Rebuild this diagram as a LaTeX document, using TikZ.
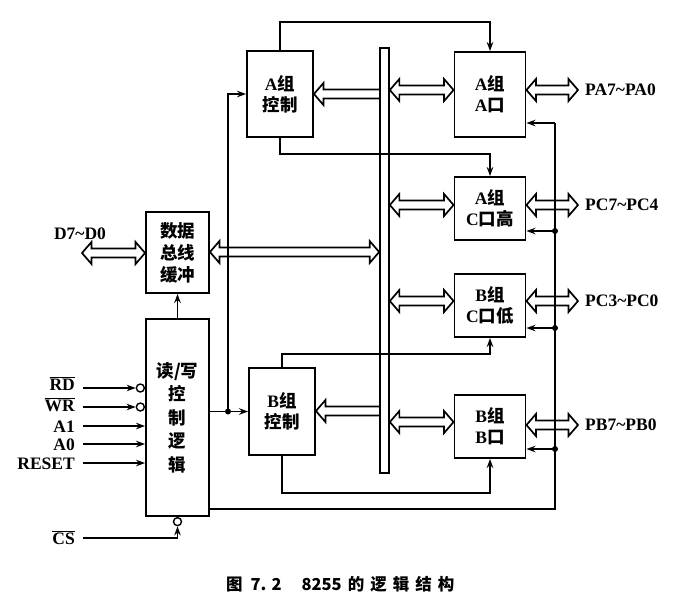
\documentclass[tikz,border=0pt]{standalone}
\usepackage{fontspec}
\setmainfont{Liberation Serif}
\newfontfamily\cjk{Noto Sans CJK SC}
\usetikzlibrary{arrows.meta,calc}
\newcommand\zh[1]{{\cjk\bfseries #1}}
\newcommand\lbl{\fontsize{17.5}{21}\selectfont\bfseries}
\newcommand\fatLR[3]{%
  \draw[fat] let \p1=(#1), \p2=(#2), \p3=(0,#3) in
  (\x1,\y3) -- (\x1+9.5pt,\y3+11pt) -- (\x1+9.5pt,\y3+4.5pt) -- (\x2-9.5pt,\y3+4.5pt)
  -- (\x2-9.5pt,\y3+11pt) -- (\x2,\y3) -- (\x2-9.5pt,\y3-11pt) -- (\x2-9.5pt,\y3-4.5pt)
  -- (\x1+9.5pt,\y3-4.5pt) -- (\x1+9.5pt,\y3-11pt) -- cycle;}
\newcommand\fatL[3]{%
  \draw[fat] let \p1=(#1), \p2=(#2), \p3=(0,#3) in
  (\x2,\y3+4.5pt) -- (\x1+9.5pt,\y3+4.5pt) -- (\x1+9.5pt,\y3+11pt) -- (\x1,\y3)
  -- (\x1+9.5pt,\y3-11pt) -- (\x1+9.5pt,\y3-4.5pt) -- (\x2,\y3-4.5pt);}
\tikzset{
  box/.style={draw, line width=1.9pt, inner sep=0pt, align=center, font=\lbl},
  ln/.style={line width=1.7pt},
  arr/.style={line width=1.7pt, -{Stealth[length=9pt,width=6.5pt]}},
  fat/.style={line width=1.7pt, line join=miter},
  bubble/.style={draw, circle, line width=1.4pt, minimum size=8pt, inner sep=0pt},
  sig/.style={font=\lbl, inner sep=0pt},
}
\begin{document}
\begin{tikzpicture}[x=1pt,y=-1pt]
\useasboundingbox (0,0) rectangle (679,603);
% boxes
\node[box, minimum width=66pt, minimum height=86pt] (actrl) at (280,94) {A\zh{组}\\\zh{控制}};
\node[box, minimum width=66pt, minimum height=87pt] (bctrl) at (282,411.5) {B\zh{组}\\\zh{控制}};
\node[box, minimum width=71pt, minimum height=85pt] (aport) at (490,94.5) {A\zh{组}\\A\zh{口}};
\node[box, minimum width=71pt, minimum height=63pt] (chigh) at (490,208.5) {A\zh{组}\\C\zh{口高}};
\node[box, minimum width=71pt, minimum height=63pt] (clow) at (490,305.5) {B\zh{组}\\C\zh{口低}};
\node[box, minimum width=71pt, minimum height=63pt] (bport) at (490,426.5) {B\zh{组}\\B\zh{口}};
\node[box, minimum width=63pt, minimum height=81pt, font=\fontsize{17.5}{22}\selectfont] (buf) at (177.5,252.5) {\zh{数据}\\\zh{总线}\\\zh{缓冲}};
\node[box, minimum width=63pt, minimum height=197pt, font=\fontsize{17.5}{23.5}\selectfont] (rw) at (177.5,417.5) {\zh{读/写}\\\zh{控}\\\zh{制}\\\zh{逻}\\\zh{辑}};
\node[draw, line width=1.7pt, minimum width=9pt, minimum height=425pt, inner sep=0pt] (bus) at (384.5,260.5) {};
% control lines from group controls
\draw[arr] (actrl.north) -- (actrl.north |- 0,22) -| (aport.north);
\draw[arr] (actrl.south) -- (actrl.south |- 0,154) -| (chigh.north);
\draw[arr] (bctrl.north) -- (bctrl.north |- 0,354) -| (clow.south);
\draw[arr] (bctrl.south) -- (bctrl.south |- 0,493) -| (bport.south);
% fat arrows
\fatL{actrl.east}{bus.west}{94}
\fatL{bctrl.east}{bus.west}{411}
\fatLR{bus.east}{aport.west}{90}
\fatLR{bus.east}{chigh.west}{205}
\fatLR{bus.east}{clow.west}{301}
\fatLR{bus.east}{bport.west}{422}
\fatLR{buf.east}{bus.west}{252}
\coordinate (d7) at (82,253);
\fatLR{d7}{buf.west}{253}
\coordinate (pa) at (578,90);
\coordinate (pch) at (578,205);
\coordinate (pcl) at (578,301);
\coordinate (pb) at (578,425);
\fatLR{aport.east}{pa}{90}
\fatLR{chigh.east}{pch}{205}
\fatLR{clow.east}{pcl}{301}
\fatLR{bport.east}{pb}{425}
\node[sig, anchor=west] (lpa) at (585,90) {PA7\textasciitilde PA0};
\node[sig, anchor=west] (lpch) at (585,205) {PC7\textasciitilde PC4};
\node[sig, anchor=west] (lpcl) at (585,301) {PC3\textasciitilde PC0};
\node[sig, anchor=west] (lpb) at (585,425) {PB7\textasciitilde PB0};
\node[sig, anchor=base] (ld) at (80,239) {D7\textasciitilde D0};
% right vertical line
\coordinate (vtop) at (555,123);
\coordinate (vbot) at (555,509);
\coordinate (j1) at (555,231);
\coordinate (j2) at (555,328);
\coordinate (j3) at (555,449);
\draw[ln] (rw.east |- vbot) -- (vbot) -- (vtop);
\draw[arr] (vtop) -- (aport.east |- vtop);
\draw[arr] (j1) -- (chigh.east |- j1);
\draw[arr] (j2) -- (clow.east |- j2);
\draw[arr] (j3) -- (bport.east |- j3);
\foreach \j in {j1,j2,j3} \fill (\j) circle (3pt);
% left internal line
\coordinate (jl) at (228,0 |- bctrl.west);
\draw[ln] (rw.east |- bctrl.west) -- (jl);
\draw[arr] (jl) -- (bctrl.west);
\draw[arr] (jl) |- (actrl.west);
\fill (jl) circle (3pt);
\draw[arr] (rw.north) -- (buf.south);
% inputs
\node[bubble, anchor=east] (bRD) at (rw.west |- 0,388) {};
\node[bubble, anchor=east] (bWR) at (rw.west |- 0,407) {};
\coordinate (sRD) at (83,388);
\coordinate (sWR) at (83,407);
\coordinate (sA1) at (83,426);
\coordinate (sA0) at (83,444);
\coordinate (sRS) at (83,463);
\coordinate (sCS) at (83,538);
\draw[arr] (sRD) -- (bRD.west);
\draw[arr] (sWR) -- (bWR.west);
\draw[arr] (sA1) -- (rw.west |- sA1);
\draw[arr] (sA0) -- (rw.west |- sA0);
\draw[arr] (sRS) -- (rw.west |- sRS);
\node[sig, anchor=base east] (lRD) at (75,390) {$\overline{\hbox{RD}}$};
\node[sig, anchor=base east] (lWR) at (75,411) {$\overline{\hbox{WR}}$};
\node[sig, anchor=base east] (lA1) at (75,432) {A1};
\node[sig, anchor=base east] (lA0) at (75,450) {A0};
\node[sig, anchor=base east] (lRS) at (75,469) {RESET};
\node[sig, anchor=base east] (lCS) at (75,544) {$\overline{\hbox{CS}}$};
\node[bubble, anchor=north] (bCS) at (rw.south) {};
\draw[arr] (sCS) -| (bCS.south);
% caption
\node[inner sep=0pt, anchor=west, font={\fontsize{16.5}{18}\selectfont\cjk\bfseries}] (cap) at (226,584) {图\hspace{8pt}7.\hspace{5pt}2\hspace{20pt}8255\hspace{6pt}的\hspace{6pt}逻\hspace{6pt}辑\hspace{6pt}结\hspace{6pt}构};
\end{tikzpicture}
\end{document}
